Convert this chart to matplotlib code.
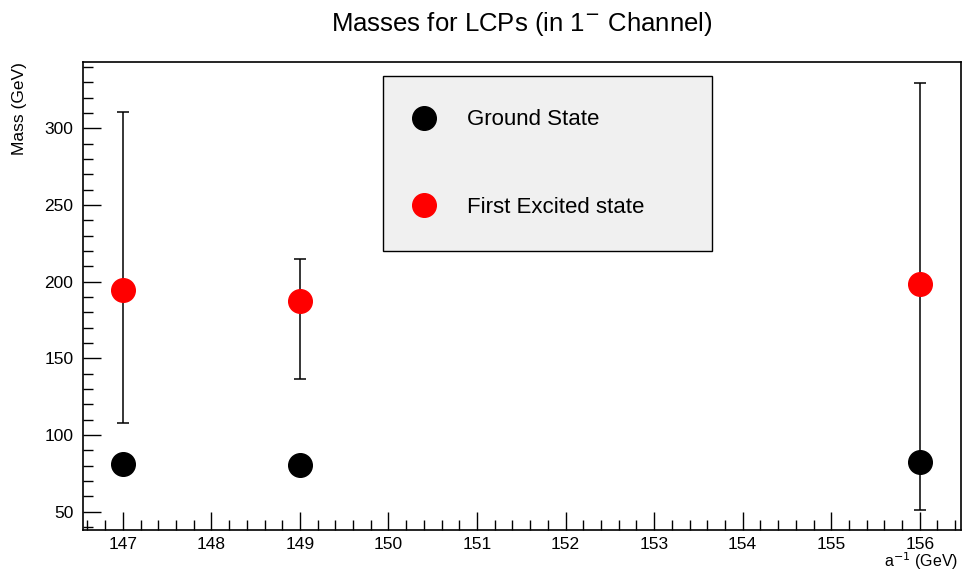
import numpy as np
import matplotlib
matplotlib.use('Agg')
import matplotlib.pyplot as plt
from matplotlib.ticker import MultipleLocator

plt.rcParams['font.family'] = ['Liberation Sans', 'DejaVu Sans']

#values
a_inv = [147, 149, 156]
ground = [81.1, 80.4, 82.5]
excited = [194.6, 187.4, 198.5]
err_up = [116.2, 27.4, 130.8]
err_down = [86.6, 50.9, 147.4]

fig = plt.figure(figsize=(9.65, 5.76), dpi=100)
ax = fig.add_axes([83/965, 1-530/576, (960.5-83)/965, (530-62)/576])

ax.errorbar(a_inv, excited, yerr=[err_down, err_up], fmt='none', ecolor='black',
            elinewidth=1.1, capsize=4, capthick=1.1, zorder=2)
ax.plot(a_inv, ground, 'o', color='black', markersize=17, label='Ground State', zorder=3)
ax.plot(a_inv, excited, 'o', color='red', markersize=17, label='First Excited state', zorder=3)

ax.set_xlim(146.55, 156.46)
ax.set_ylim(38.1, 343.2)

ax.xaxis.set_major_locator(MultipleLocator(1))
ax.xaxis.set_minor_locator(MultipleLocator(0.2))
ax.yaxis.set_major_locator(MultipleLocator(50))
ax.yaxis.set_minor_locator(MultipleLocator(10))
ax.tick_params(which='both', direction='in', top=False, right=False, labelsize=12.5, width=1)
ax.tick_params(which='major', length=13, pad=7)
ax.tick_params(axis='x', which='major', pad=5)
ax.tick_params(which='minor', length=7)
for s in ax.spines.values():
    s.set_linewidth(1.2)

ax.set_title('Masses for LCPs (in 1$^{-}$ Channel)', fontsize=18.5, pad=22)
ax.set_ylabel('Mass (GeV)', fontsize=12.5, loc='top', labelpad=12)
# x title sits under the last tick label, right-aligned to the frame
fig.text(958/965, 1-567/576, 'a$^{-1}$ (GeV)', fontsize=11.5, ha='right', va='baseline')

#legend box: x 383..712, y 76..250 in pixels
lx0 = (383-83)/877.5
lw = 329/877.5
lh = 174/468
ly0 = 1-(250-62)/468
leg = ax.legend(loc='upper left', bbox_to_anchor=(lx0, ly0, lw, lh),
                mode='expand', fontsize=16, frameon=True, fancybox=False, edgecolor='black',
                facecolor='#f0f0f0', framealpha=1, borderpad=1.5, labelspacing=3.0,
                handlelength=0.7, handletextpad=1.57, borderaxespad=0, markerscale=1)
leg.get_frame().set_linewidth(1)

fig.savefig('out.png', dpi=100)
